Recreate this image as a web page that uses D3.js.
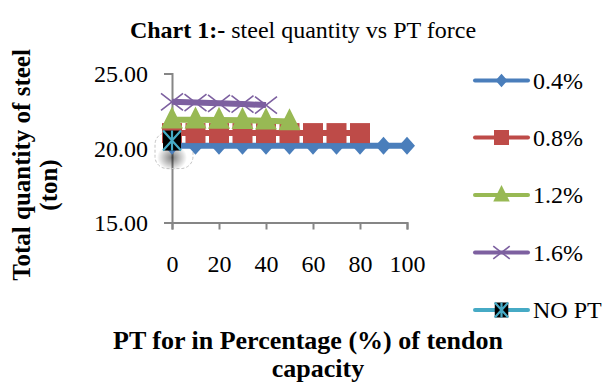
<!DOCTYPE html>
<html>
<head>
<meta charset="utf-8">
<script src="https://cdn.jsdelivr.net/npm/d3@7"></script>
<style>
  html, body { margin: 0; padding: 0; background: #fff; }
  svg { display: block; font-family: "Liberation Serif", "Times New Roman", serif; }
</style>
</head>
<body>
<svg id="chart" width="603" height="387"></svg>
<script>
// PT force as % of tendon capacity
const ptLevels = [0, 10, 20, 30, 40, 50, 60, 70, 80, 90, 100];

// Total steel quantity (ton) for each reinforcement ratio
const steel04 = [20.15, 20.15, 20.15, 20.15, 20.15, 20.15, 20.15, 20.15, 20.15, 20.15, 20.15];
const steel08 = [21.0, 21.0, 21.0, 21.0, 21.0, 21.0, 21.0, 21.0, 21.0];
const steel12 = [21.9, 21.9, 21.88, 21.86, 21.83, 21.78];
const steel16 = [23.1, 23.05, 23.0, 22.95, 22.88];
const steelNoPT = [20.5];

const seriesNames = ["0.4%", "0.8%", "1.2%", "1.6%", "NO PT"];
const seriesColors = ["#4a7ebb", "#be4b48", "#98b954", "#7d60a0", "#46aac5"];
const seriesValues = [steel04, steel08, steel12, steel16, steelNoPT];
const seriesMarkers = ["diamond", "square", "triangle", "cross", "star"];

const yTicks = [15, 20, 25];
const xTicks = [0, 20, 40, 60, 80, 100];

const svg = d3.select("#chart");

const x = d3.scaleLinear().domain([0, 100]).range([172, 407]);
const y = d3.scaleLinear().domain([15, 25]).range([222.5, 73.5]);

// Title
const title = svg.append("text")
  .attr("x", 303).attr("y", 38)
  .attr("text-anchor", "middle")
  .attr("font-size", 24);
title.append("tspan").attr("font-weight", "bold").text("Chart 1:-");
title.append("tspan").text(" steel quantity vs PT force");

// Axes
const axisColor = "#868686";
const yAxis = svg.append("g")
  .attr("transform", `translate(${x(0)},0)`)
  .call(d3.axisLeft(y).tickValues(yTicks).tickSize(8).tickPadding(16)
    .tickFormat(d3.format(".2f")));
const xAxis = svg.append("g")
  .attr("transform", `translate(0,${y(15)})`)
  .call(d3.axisBottom(x).tickValues(xTicks).tickSize(7).tickPadding(25));

[yAxis, xAxis].forEach(g => {
  g.select(".domain").attr("stroke", axisColor).attr("stroke-width", 2);
  g.selectAll(".tick line").attr("stroke", axisColor).attr("stroke-width", 2);
  g.selectAll(".tick text")
    .attr("font-family", "Liberation Serif, Times New Roman, serif")
    .attr("font-size", 24).attr("fill", "#000");
});
yAxis.selectAll(".tick text").attr("dy", "0.35em");

// Soft shadow and dashed outline round the NO PT point
const defs = svg.append("defs");
const grad = defs.append("radialGradient").attr("id", "glow");
grad.append("stop").attr("offset", "0%").attr("stop-color", "#000").attr("stop-opacity", 0.5);
grad.append("stop").attr("offset", "100%").attr("stop-color", "#000").attr("stop-opacity", 0);
svg.append("ellipse")
  .attr("cx", x(0)).attr("cy", y(steelNoPT[0]) + 17)
  .attr("rx", 15).attr("ry", 13)
  .attr("fill", "url(#glow)");
svg.append("rect")
  .attr("x", x(0) - 17).attr("y", y(steelNoPT[0]) - 8)
  .attr("width", 38).attr("height", 36).attr("rx", 12)
  .attr("fill", "none").attr("stroke", "#c4c4c4")
  .attr("stroke-dasharray", "3,2").attr("stroke-width", 1);

function drawMarker(g, type, cx, cy, color, scale) {
  const s = scale || 1;
  if (type === "diamond") {
    const rx = 8 * s, ry = 9 * s;
    g.append("path").attr("d", `M${cx},${cy - ry}L${cx + rx},${cy}L${cx},${cy + ry}L${cx - rx},${cy}Z`)
      .attr("fill", color);
  } else if (type === "square") {
    const h = 10 * s;
    g.append("rect").attr("x", cx - h).attr("y", cy - h).attr("width", 2 * h).attr("height", 2 * h)
      .attr("fill", color);
  } else if (type === "triangle") {
    const h = 11 * s;
    g.append("path").attr("d", `M${cx},${cy - h * 1.2}L${cx + h},${cy + h * 0.8}L${cx - h},${cy + h * 0.8}Z`)
      .attr("fill", color);
  } else if (type === "cross") {
    const rx = 11 * s, ry = 8.5 * s;
    g.append("path").attr("d", `M${cx - rx},${cy - ry}L${cx + rx},${cy + ry}M${cx + rx},${cy - ry}L${cx - rx},${cy + ry}`)
      .attr("stroke", color).attr("stroke-width", 1.6).attr("fill", "none");
  } else if (type === "star") {
    const hw = 9 * s, hh = 10 * s;
    g.append("rect").attr("x", cx - hw).attr("y", cy - hh).attr("width", 2 * hw).attr("height", 2 * hh)
      .attr("fill", "#000");
    g.append("path")
      .attr("d", `M${cx - hw},${cy - hh}L${cx + hw},${cy + hh}M${cx + hw},${cy - hh}L${cx - hw},${cy + hh}M${cx},${cy - hh}L${cx},${cy + hh}`)
      .attr("stroke", color).attr("stroke-width", 2.2).attr("fill", "none");
  }
}

const line = d3.line().x((d, i) => x(ptLevels[i])).y(d => y(d));

seriesValues.forEach((vals, k) => {
  const g = svg.append("g");
  g.append("path").datum(vals)
    .attr("d", line)
    .attr("fill", "none")
    .attr("stroke", seriesColors[k])
    .attr("stroke-width", 6)
    .attr("stroke-linejoin", "round");
  vals.forEach((v, i) => drawMarker(g, seriesMarkers[k], x(ptLevels[i]), y(v), seriesColors[k]));
});

// Legend
const legendY = [80.5, 137.5, 195, 252.5, 310];
seriesNames.forEach((name, k) => {
  const g = svg.append("g");
  const ly = legendY[k];
  g.append("line").attr("x1", 475).attr("x2", 528).attr("y1", ly).attr("y2", ly)
    .attr("stroke", seriesColors[k]).attr("stroke-width", 4).attr("stroke-linecap", "round");
  drawMarker(g, seriesMarkers[k], 501.5, ly, seriesColors[k], 0.75);
  g.append("text").attr("x", 533).attr("y", ly + 8)
    .attr("font-size", 24).text(name);
});

// Axis titles
const yTitle = ["Total quantity of steel", "(ton)"];
const yTitlePos = [{ x: 30, c: 165 }, { x: 57, c: 185 }];
yTitle.forEach((t, i) => {
  svg.append("text")
    .attr("transform", `translate(${yTitlePos[i].x},${yTitlePos[i].c}) rotate(-90)`)
    .attr("text-anchor", "middle")
    .attr("font-size", 25).attr("font-weight", "bold")
    .text(t);
});

const xTitle = ["PT for in Percentage (%) of tendon", "capacity"];
const xTitlePos = [{ c: 308, y: 349 }, { c: 318, y: 377 }];
xTitle.forEach((t, i) => {
  svg.append("text")
    .attr("x", xTitlePos[i].c).attr("y", xTitlePos[i].y)
    .attr("text-anchor", "middle")
    .attr("font-size", 26).attr("font-weight", "bold")
    .text(t);
});
</script>
</body>
</html>
